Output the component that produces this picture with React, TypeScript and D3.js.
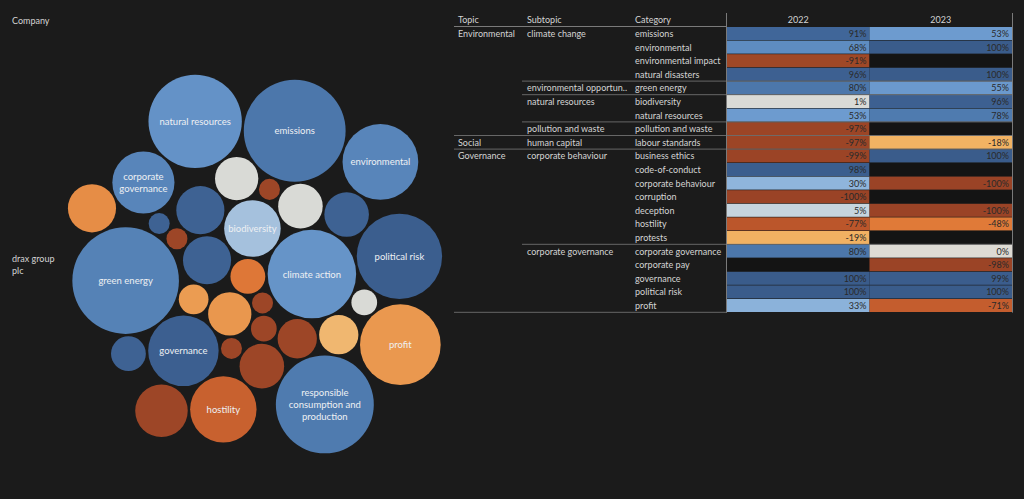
import React, { useEffect, useRef } from "react";
import * as d3 from "d3";

// ---------- Table data ----------
const topics = ["Environmental", "", "", "", "", "", "", "", "Social", "Governance", "", "", "", "", "", "", "", "", "", "", ""];
const subtopics = ["climate change", "", "", "", "environmental opportunities", "natural resources", "", "pollution and waste", "human capital", "corporate behaviour", "", "", "", "", "", "", "corporate governance", "", "", "", ""];
const categories = ["emissions", "environmental", "environmental impact", "natural disasters", "green energy", "biodiversity", "natural resources", "pollution and waste", "labour standards", "business ethics", "code-of-conduct", "corporate behaviour", "corruption", "deception", "hostility", "protests", "corporate governance", "corporate pay", "governance", "political risk", "profit"];
const years = ["2022", "2023"];
const v2022: (number | null)[] = [91, 68, -91, 96, 80, 1, 53, -97, -97, -99, 98, 30, -100, 5, -77, -19, 80, null, 100, 100, 33];
const v2023: (number | null)[] = [53, 100, null, 100, 55, 96, 78, null, -18, 100, null, -100, null, -100, -48, null, 0, -98, 99, 100, -71];
const subtopicBreaks = [3, 4, 6, 15];
const topicBreaks = [7, 8, 20];

// ---------- Bubble data (mentions and mean sentiment) ----------
const bubbleNames = ["renewables", "code-of-conduct", "waste", "transparency", "natural disasters", "diversity", "community", "innovation", "climate action", "labour standards", "pollution and waste", "human rights", "corruption", "safety", "governance", "biodiversity", "deception", "green energy", "stakeholders", "hostility", "corporate governance", "political risk", "environmental impact", "emissions", "responsible consumption and production", "protests", "energy security", "bribery", "natural resources", "profit", "lawsuits", "environmental", "supply chain"];
const bubbleCounts = [4, 21, 6, 17, 21, 8, 11, 11, 71, 17, 18, 4, 4, 6, 45, 29, 14, 103, 18, 40, 35, 66, 25, 94, 87, 21, 18, 4, 79, 59, 4, 52, 14];
const bubbleScores = [0.95, 0.95, -0.95, 0.01, 0.95, -0.3, -0.5, 0.95, 0.6, -0.33, -0.95, -0.95, -0.95, 0.01, 0.97, 0.2, -0.95, 0.74, 0.01, -0.68, 0.72, 0.98, -0.95, 0.8, 0.78, -0.38, 0.95, -0.95, 0.62, -0.32, -0.95, 0.72, -0.16];

const companyHeader = "Company";
const companyName = "drax group plc";

const W = 1024;
const H = 499;
const BG = "#1b1b1b";
const FONT = "Lato, 'Noto Sans', sans-serif";
const TXT = "#d4d4d4";

const colorScale = d3
  .scaleLinear<string>()
  .domain([-1, -0.9, -0.75, -0.48, -0.18, 0, 0.05, 0.3, 0.53, 0.68, 0.8, 0.9, 1])
  .range(["#9a4326", "#a04827", "#bf582c", "#e07a38", "#f2b363", "#dedbd4", "#c6d4de", "#8fb5dc", "#6d9bcf", "#5e8cc1", "#4c77ab", "#41679a", "#3a5c8b"])
  .clamp(true);

export default function App() {
  const ref = useRef<SVGSVGElement>(null);

  useEffect(() => {
    document.body.style.margin = "0";
    document.body.style.background = BG;
    const svg = d3.select(ref.current);
    svg.selectAll("*").remove();

    svg.append("rect").attr("width", W).attr("height", H).attr("fill", BG);

    // ---------- Left: bubble chart ----------
    svg.append("text").attr("x", 12).attr("y", 24).attr("fill", TXT).attr("font-family", FONT).attr("font-size", 9).text(companyHeader);
    const words = companyName.split(" ");
    const cn = svg.append("text").attr("x", 12).attr("y", 262).attr("fill", TXT).attr("font-family", FONT).attr("font-size", 9);
    cn.append("tspan").attr("x", 12).text(words.slice(0, 2).join(" "));
    cn.append("tspan").attr("x", 12).attr("dy", 12).text(words.slice(2).join(" "));

    const rScale = d3.scaleSqrt().domain([0, d3.max(bubbleCounts)!]).range([0, 53.3]);
    type N = { name: string; count: number; score: number; r: number; x?: number; y?: number };
    const nodes: N[] = bubbleNames.map((name, i) => ({ name, count: bubbleCounts[i], score: bubbleScores[i], r: rScale(bubbleCounts[i]) }));
    const sim = d3
      .forceSimulation(nodes as any)
      .force("x", d3.forceX(0).strength(0.05))
      .force("y", d3.forceY(0).strength(0.05))
      .force("collide", d3.forceCollide((d: any) => d.r + 1.2).iterations(4))
      .stop();
    for (let i = 0; i < 500; i++) sim.tick();
    const x0 = d3.min(nodes, (d) => d.x! - d.r)!;
    const x1 = d3.max(nodes, (d) => d.x! + d.r)!;
    const y0 = d3.min(nodes, (d) => d.y! - d.r)!;
    const y1 = d3.max(nodes, (d) => d.y! + d.r)!;
    const cx = 255 - (x0 + x1) / 2;
    const cy = 264 - (y0 + y1) / 2;

    const canvas = document.createElement("canvas");
    const ctx = canvas.getContext("2d")!;
    ctx.font = `9.5px ${FONT}`;

    const g = svg.append("g").attr("transform", `translate(${cx},${cy})`);
    const bub = g.selectAll("g.b").data(nodes).join("g").attr("class", "b").attr("transform", (d) => `translate(${d.x},${d.y})`);
    bub.append("circle").attr("r", (d) => d.r).attr("fill", (d) => colorScale(d.score));
    bub
      .filter((d) => d.r >= 28)
      .each(function (d) {
        const maxW = d.r * 1.8;
        const ws = d.name.split(" ");
        const lines: string[] = [];
        let cur = "";
        ws.forEach((w) => {
          const t = cur ? cur + " " + w : w;
          if (cur && ctx.measureText(t).width > maxW) {
            lines.push(cur);
            cur = w;
          } else cur = t;
        });
        if (cur) lines.push(cur);
        const lh = 12;
        const t = d3.select(this).append("text").attr("text-anchor", "middle").attr("fill", "#eef0f3").attr("font-family", FONT).attr("font-size", 9.5);
        lines.forEach((l, i) => {
          t.append("tspan").attr("x", 0).attr("y", (i - (lines.length - 1) / 2) * lh + 3.5).text(l);
        });
      });

    // ---------- Right: table ----------
    const rowH = 13.6;
    const top = 27;
    const colTopic = 458;
    const colSub = 527;
    const colCat = 635;
    const xCells = d3.scaleBand().domain(years).range([727, 1012]);
    const yRow = (i: number) => top + i * rowH;

    const hdr = svg.append("g").attr("font-family", FONT).attr("font-size", 9).attr("fill", TXT);
    hdr.append("text").attr("x", colTopic).attr("y", 23).text("Topic");
    hdr.append("text").attr("x", colSub).attr("y", 23).text("Subtopic");
    hdr.append("text").attr("x", colCat).attr("y", 23).text("Category");
    years.forEach((y) => {
      hdr.append("text").attr("x", xCells(y)! + xCells.bandwidth() / 2).attr("y", 23).attr("text-anchor", "middle").text(y);
    });

    const vals = [v2022, v2023];
    years.forEach((yr, j) => {
      const col = vals[j];
      const cg = svg.append("g");
      categories.forEach((c, i) => {
        const v = col[i];
        cg.append("rect")
          .attr("x", xCells(yr)!)
          .attr("y", yRow(i))
          .attr("width", xCells.bandwidth())
          .attr("height", rowH - 0.6)
          .attr("fill", v == null ? "#141414" : colorScale(v / 100));
        if (v != null) {
          cg.append("text")
            .attr("x", xCells(yr)! + xCells.bandwidth() - 3)
            .attr("y", yRow(i) + 10)
            .attr("text-anchor", "end")
            .attr("font-family", FONT)
            .attr("font-size", 9)
            .attr("fill", "#2a2a2a")
            .text(`${v}%`);
        }
      });
    });

    const lg = svg.append("g").attr("font-family", FONT).attr("font-size", 9).attr("fill", TXT);
    categories.forEach((c, i) => {
      const yy = yRow(i) + 10;
      if (topics[i]) lg.append("text").attr("x", colTopic).attr("y", yy).text(topics[i]);
      if (subtopics[i]) {
        let s = subtopics[i];
        ctx.font = `9px ${FONT}`;
        if (ctx.measureText(s).width > colCat - colSub - 6) {
          while (s.length > 1 && ctx.measureText(s + "..").width > colCat - colSub - 6) s = s.slice(0, -1);
          s = s + "..";
        }
        lg.append("text").attr("x", colSub).attr("y", yy).text(s);
      }
      lg.append("text").attr("x", colCat).attr("y", yy).text(c);
    });

    const lines = svg.append("g").attr("stroke", "#7a7a7a").attr("stroke-width", 1);
    lines.append("line").attr("x1", 454).attr("x2", 727).attr("y1", top - 0.5).attr("y2", top - 0.5);
    subtopicBreaks.forEach((i) => {
      lines.append("line").attr("x1", 522).attr("x2", 1012).attr("y1", yRow(i + 1) - 0.3).attr("y2", yRow(i + 1) - 0.3).attr("stroke-opacity", 0.8);
    });
    topicBreaks.forEach((i) => {
      lines.append("line").attr("x1", 454).attr("x2", i === 20 ? 727 : 1012).attr("y1", yRow(i + 1) - 0.3).attr("y2", yRow(i + 1) - 0.3).attr("stroke-opacity", 0.8);
    });
    lines.append("line").attr("x1", 726.5).attr("x2", 726.5).attr("y1", 13).attr("y2", yRow(21));
    lines.append("line").attr("x1", 1012.5).attr("x2", 1012.5).attr("y1", 13).attr("y2", yRow(21));
  }, []);

  return <svg ref={ref} width={W} height={H} style={{ position: "absolute", left: 0, top: 0, display: "block" }} />;
}
